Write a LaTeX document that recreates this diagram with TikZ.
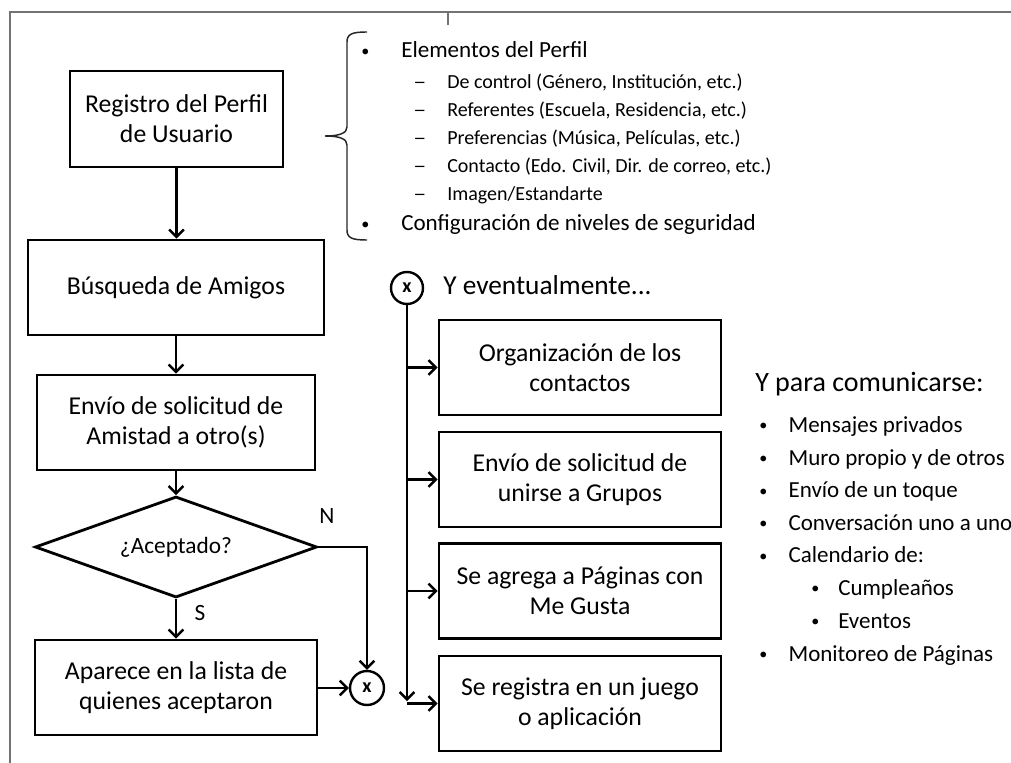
\documentclass[tikz,border=0pt]{standalone}
\usepackage{fontspec}
\setmainfont{Carlito}
\usetikzlibrary{arrows.meta,shapes.geometric}
\newcommand{\smbul}{\raisebox{0.05em}{\scalebox{0.7}{•}}}
\begin{document}
\begin{tikzpicture}[x=0.75pt,y=-0.75pt,
  box/.style={draw, line width=2.1pt, minimum width={282*0.75pt}, minimum height={95*0.75pt}, align=center, font=\fontsize{19.3}{22.5}\selectfont, inner sep=0pt},
  arr/.style={line width=1.8pt, -{Straight Barb[length=5.5pt,width=11pt]}},
  conn/.style={draw, circle, line width=1.8pt, inner sep=0pt, font=\bfseries\fontsize{15}{15}\selectfont},
  frame/.style={draw=black!55, line width=1.1pt},
  mainitem/.style={anchor=base west, inner sep=0pt, font=\fontsize{17.3}{20}\selectfont},
  subitem/.style={anchor=base west, inner sep=0pt, font=\fontsize{15}{17}\selectfont},
  ritem/.style={anchor=base west, inner sep=0pt, font=\fontsize{17.25}{20}\selectfont},
  lbl/.style={inner sep=0pt, font=\fontsize{17.5}{20}\selectfont},
  head/.style={anchor=base west, inner sep=0pt, font=\fontsize{20.5}{24}\selectfont}
]
\useasboundingbox (0,0) rectangle (1011,763);
% frame
\draw[frame] (10,763) -- (10,12) -- (1011,12);
\draw[frame] (448,12) -- (448,25);

% left flow
\node[box, minimum width={213*0.75pt}, minimum height={96*0.75pt}] (r1) at (176.5,119) {Registro del Perfil\\de Usuario};
\node[box, minimum width={296*0.75pt}] (r2) at (176,287.5) {Búsqueda de Amigos};
\node[box, minimum width={278*0.75pt}] (r3) at (176,422.5) {Envío de solicitud de\\Amistad a otro(s)};
\node[draw, diamond, line width=2.1pt, minimum width={282*0.75pt}, minimum height={101*0.75pt}, shape aspect=2.8, inner sep=0pt, font=\fontsize{17.5}{20}\selectfont] (dec) at (176,547) {¿Aceptado?};
\node[box] (r4) at (176,687.5) {Aparece en la lista de\\quienes aceptaron};
\node[conn, minimum size={34*0.75pt}] (x1) at (367,688) {x};

\draw[arr] (r1.south) -- (r1.south |- r2.north);
\draw[arr] (r2.south) -- (r2.south |- r3.north);
\draw[arr] (r3.south) -- (r3.south |- dec.north);
\draw[arr] (dec.south) -- (dec.south |- r4.north);
\draw[arr] (dec.east) -| (x1.north);
\draw[arr] (r4.east |- x1.west) -- (x1.west);
\node[lbl] (lN) at (327,516) {N};
\node[lbl] (lS) at (200,613) {S};

% brace
\draw[line width=1.1pt, black!85] (367,32) .. controls (352,32) and (347,34) .. (347,42) -- (347,127) .. controls (347,133) and (340,136) .. (325,136)
  .. controls (340,136) and (347,139) .. (347,145) -- (347,230) .. controls (347,238) and (352,240) .. (367,240);

% profile list
\node[mainitem] (p1) at (361,57.5) {\makebox[30pt][l]{\smbul}Elementos del Perfil};
\node[subitem] (p2) at (413,88.5) {\makebox[25.5pt][l]{\scalebox{1.3}[1]{–}}De control (Género, Institución, etc.)};
\node[subitem] (p3) at (413,116.5) {\makebox[25.5pt][l]{\scalebox{1.3}[1]{–}}Referentes (Escuela, Residencia, etc.)};
\node[subitem] (p4) at (413,144.5) {\makebox[25.5pt][l]{\scalebox{1.3}[1]{–}}Preferencias (Música, Películas, etc.)};
\node[subitem] (p5) at (413,173) {\makebox[25.5pt][l]{\scalebox{1.3}[1]{–}}Contacto (Edo. Civil, Dir. de correo, etc.)};
\node[subitem] (p6) at (413,201) {\makebox[25.5pt][l]{\scalebox{1.3}[1]{–}}Imagen/Estandarte};
\node[mainitem] (p7) at (361,231) {\makebox[30pt][l]{\smbul}Configuración de niveles de seguridad};

% eventually
\node[conn, minimum size={32*0.75pt}] (x2) at (407,288) {x};
\node[head] (yev) at (443,295) {Y eventualmente...};
\node[box] (ra) at (580,367.5) {Organización de los\\contactos};
\node[box] (rb) at (580,479.5) {Envío de solicitud de\\unirse a Grupos};
\node[box] (rc) at (580,591) {Se agrega a Páginas con\\Me Gusta};
\node[box] (rd) at (580,703.5) {Se registra en un juego\\o aplicación};
\coordinate (vend) at (407,701);
\draw[arr] (x2.south) -- (vend);
\draw[arr] (x2.south |- ra.west) -- (ra.west);
\draw[arr] (x2.south |- rb.west) -- (rb.west);
\draw[arr] (x2.south |- rc.west) -- (rc.west);
\draw[arr] (x2.south |- rd.west) -- (rd.west);

% communicate list
\node[head, font=\fontsize{21}{24}\selectfont] (ycom) at (755,391) {Y para comunicarse:};
\node[ritem] (c1) at (759,432) {\makebox[22pt][l]{\smbul}Mensajes privados};
\node[ritem] (c2) at (759,465) {\makebox[22pt][l]{\smbul}Muro propio y de otros};
\node[ritem] (c3) at (759,497.5) {\makebox[22pt][l]{\smbul}Envío de un toque};
\node[ritem] (c4) at (759,530) {\makebox[22pt][l]{\smbul}Conversación uno a uno};
\node[ritem] (c5) at (759,562.5) {\makebox[22pt][l]{\smbul}Calendario de:};
\node[ritem] (c6) at (811,595) {\makebox[20.25pt][l]{\smbul}Cumpleaños};
\node[ritem] (c7) at (811,628) {\makebox[20.25pt][l]{\smbul}Eventos};
\node[ritem] (c8) at (759,661) {\makebox[22pt][l]{\smbul}Monitoreo de Páginas};
\end{tikzpicture}
\end{document}
